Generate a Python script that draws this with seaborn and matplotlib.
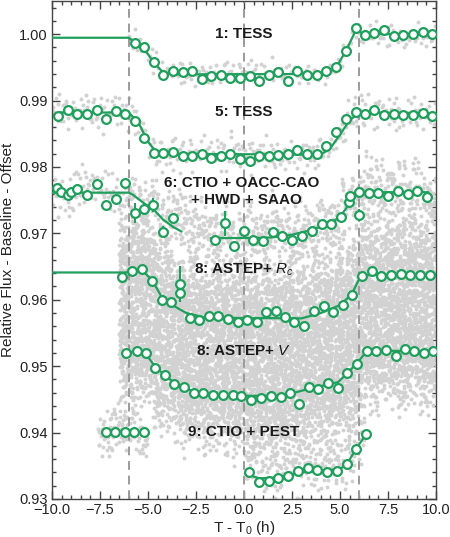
import numpy as np
import pandas as pd
import matplotlib
matplotlib.use('Agg')
import matplotlib.pyplot as plt
from matplotlib.ticker import MultipleLocator
import seaborn as sns

sns.set_theme(style='ticks')
plt.rcParams['font.family'] = ['Liberation Sans', 'DejaVu Sans']
plt.rcParams['mathtext.fontset'] = 'custom'
plt.rcParams['mathtext.rm'] = 'Liberation Sans'
plt.rcParams['mathtext.it'] = 'Liberation Sans:italic'
plt.rcParams['mathtext.bf'] = 'Liberation Sans:bold'

GREEN = '#1f9e5c'
GRAY = '#d2d2d2'

# ---- binned light curves (hours from mid-transit, relative flux) ----
s1_t = [-5.68, -5.21, -4.69, -4.20, -3.70, -3.19, -2.69, -2.20, -1.70, -1.20, -0.73, -0.21, 0.31, 0.80, 1.30, 1.79,
        2.27, 2.76, 3.26, 3.78, 4.29, 4.81, 5.30, 5.83, 6.30, 6.79, 7.31, 7.80, 8.30, 8.82, 9.31, 9.81]
s1_f = [0.99871, 0.99800, 0.99580, 0.99390, 0.99444, 0.99430, 0.99440, 0.99330, 0.99376, 0.99380, 0.99341, 0.99340,
        0.99365, 0.99300, 0.99380, 0.99430, 0.99290, 0.99444, 0.99380, 0.99380, 0.99444, 0.99505, 0.99745, 1.00090,
        0.99985, 1.00015, 1.00065, 0.99965, 0.99990, 1.00000, 1.00030, 1.00000]

s5_t = [-9.67, -9.15, -8.68, -8.16, -7.67, -7.19, -6.67, -6.20, -5.68, -5.21, -4.69, -4.20, -3.70, -3.19, -2.69, -2.20,
        -1.70, -1.20, -0.73, -0.21, 0.31, 0.80, 1.30, 1.79, 2.27, 2.76, 3.26, 3.78, 4.29, 4.81, 5.30, 5.83, 6.30, 6.79,
        7.31, 7.80, 8.30, 8.82, 9.31, 9.81]
s5_f = [0.98770, 0.98865, 0.98805, 0.98805, 0.98855, 0.98720, 0.98840, 0.98805, 0.98694, 0.98438, 0.98213, 0.98213,
        0.98228, 0.98168, 0.98168, 0.98194, 0.98130, 0.98168, 0.98194, 0.98114, 0.98093, 0.98164, 0.98164, 0.98179,
        0.98194, 0.98254, 0.98194, 0.98194, 0.98318, 0.98529, 0.98715, 0.98830, 0.98805, 0.98865, 0.98790, 0.98805,
        0.98779, 0.98779, 0.98810, 0.98764]

s6_t = [-9.76, -9.55, -9.15, -9.03, -8.68, -8.20, -7.67, -7.19, -6.67, -6.20, -5.68, -5.21, -4.72, -4.20, -3.71,
        -1.51, -0.99, -0.51, 0.00, 0.48, 1.00, 1.49, 1.99, 2.48, 3.04, 3.53, 4.05, 4.53, 5.04, 5.49, 5.52, 6.00, 6.00,
        6.51, 7.00, 7.52, 8.00, 8.53, 9.03, 9.51]
s6_f = [0.97679, 0.97628, 0.97578, 0.97630, 0.97670, 0.97578, 0.97738, 0.97430, 0.97520, 0.97763, 0.97303, 0.97363,
        0.97428, 0.97027, 0.97228, 0.96902, 0.97153, 0.96813, 0.97038, 0.96902, 0.96887, 0.97027, 0.96962, 0.96893,
        0.96963, 0.97038, 0.97138, 0.97138, 0.97254, 0.97479, 0.97565, 0.97279, 0.97628, 0.97613, 0.97613, 0.97565,
        0.97643, 0.97589, 0.97643, 0.97554]
s6_err = [0, 0, 0, 0, 0, 0, 0, 0, 0, 0, 0.0015, 0.0008, 0.0010, 0.0008, 0.0007,
          0, 0.0019, 0, 0, 0, 0, 0, 0, 0, 0, 0.0007, 0, 0, 0, 0, 0, 0.0009, 0,
          0, 0, 0, 0, 0, 0, 0]

rc_t = [-6.37, -5.85, -5.33, -4.81, -4.29, -3.82, -3.33, -3.33, -2.81, -2.33, -1.82, -1.34, -0.85, -0.33, 0.14, 0.66,
        1.15, 1.65, 2.14, 2.62, 3.14, 3.66, 4.15, 4.65, 5.14, 5.64, 6.13, 6.65, 7.14, 7.64, 8.16, 8.66, 9.17, 9.69]
rc_f = [0.96336, 0.96426, 0.96462, 0.96276, 0.95991, 0.95961, 0.96237, 0.96102, 0.95727, 0.95691, 0.95761, 0.95761,
        0.95711, 0.95661, 0.95701, 0.95661, 0.95811, 0.95826, 0.95741, 0.95661, 0.95601, 0.95836, 0.95901, 0.95811,
        0.95926, 0.96076, 0.96362, 0.96437, 0.96362, 0.96376, 0.96390, 0.96370, 0.96380, 0.96376]
rc_err = [0, 0, 0, 0, 0, 0, 0.0027, 0.0013] + [0] * 26

v_t = [-6.15, -5.59, -5.10, -4.64, -4.11, -3.63, -3.13, -2.60, -2.12, -1.63, -1.11, -0.59, -0.16, 0.36, 0.87, 1.39,
       1.91, 2.40, 2.86, 3.39, 3.87, 4.39, 4.88, 5.38, 5.87, 6.39, 6.87, 7.40, 7.90, 8.39, 8.87, 9.38, 9.86]
v_f = [0.95201, 0.95226, 0.95191, 0.94966, 0.94865, 0.94725, 0.94691, 0.94590, 0.94590, 0.94565, 0.94565, 0.94570,
       0.94550, 0.94490, 0.94526, 0.94550, 0.94540, 0.94600, 0.94435, 0.94690, 0.94650, 0.94740, 0.94666, 0.94900,
       0.95040, 0.95236, 0.95230, 0.95250, 0.95160, 0.95260, 0.95236, 0.95200, 0.95236]

s9_t = [-7.19, -6.72, -6.20, -5.71, -5.19, 0.28, 0.80, 1.30, 1.79, 2.31, 2.83, 3.32, 3.82, 4.34, 4.83, 5.35, 5.83, 6.34]
s9_f = [0.94010, 0.94010, 0.94010, 0.94010, 0.94010, 0.93400, 0.93249, 0.93264, 0.93309, 0.93350, 0.93424, 0.93460,
        0.93435, 0.93400, 0.93424, 0.93524, 0.93760, 0.93974]

# ---- transit models drawn as lines ----
m1_t = [-10, -6.0, -5.68, -5.21, -4.69, -4.2, -3.5, 4.3, 4.81, 5.30, 5.83, 6.30, 10]
m1_f = [0.99946, 0.99946, 0.99871, 0.99780, 0.99570, 0.99420, 0.99395, 0.99400, 0.99505, 0.99745, 1.00060, 1.00000, 1.00000]
m5_t = [-9.67, -6.0, -5.5, -5.0, -4.5, 4.0, 4.5, 5.0, 5.5, 6.0, 9.81]
m5_f = [0.98820, 0.98820, 0.98670, 0.98380, 0.98200, 0.98185, 0.98280, 0.98490, 0.98700, 0.98820, 0.98810]
m6a_t = [-10, -6.0, -5.77, -5.21, -4.72, -4.2, -3.67, -3.25]
m6a_f = [0.97613, 0.97613, 0.97578, 0.97453, 0.97363, 0.97203, 0.97093, 0.97027]
m6b_t = [-1.73, 0.5, 1.5, 2.5, 3.5, 4.5, 5.0, 5.5, 6.0, 9.6]
m6b_f = [0.96930, 0.96930, 0.96940, 0.96980, 0.97050, 0.97150, 0.97250, 0.97450, 0.97620, 0.97620]
mrc_t = [-10, -6.2, -5.8, -5.3, -4.8, -4.3, -3.8, -3.0, -2.0, 3.0, 4.0, 5.0, 5.6, 6.1, 10]
mrc_f = [0.96411, 0.96411, 0.96426, 0.96440, 0.96300, 0.96050, 0.95930, 0.95800, 0.95730, 0.95720, 0.95800, 0.95920,
         0.96080, 0.96370, 0.96380]
mv_t = [-6.2, -5.6, -5.1, -4.6, -4.1, -3.6, -3.1, -2.5, -1.5, 2.0, 3.0, 4.0, 4.9, 5.4, 5.9, 6.4, 10]
mv_f = [0.95210, 0.95220, 0.95180, 0.94980, 0.94860, 0.94740, 0.94680, 0.94600, 0.94560, 0.94550, 0.94630, 0.94700,
        0.94760, 0.94900, 0.95050, 0.95230, 0.95230]
m9_t = [0.05, 0.8, 2.0, 3.0, 4.0, 5.0, 5.35, 5.85, 6.35]
m9_f = [0.93380, 0.93310, 0.93330, 0.93400, 0.93420, 0.93450, 0.93520, 0.93760, 0.93970]

# ---- unbinned scatter clouds: (t start, t end, model, spread, count, shift) ----
jit_a = [0.31, -1.12, 0.87, -0.45, 1.64, -0.08, -1.73, 0.52, 1.05, -0.66, 0.19, -1.38, 2.02, -0.91, 0.44, 1.27,
         -0.27, -2.10, 0.73, -0.54, 1.48, 0.05, -1.01, 0.96, -0.35, -1.57, 0.62, 1.86, -0.79, 0.13, -1.24, 0.38,
         1.12, -0.19, -0.70, 1.39, -1.86, 0.27, 0.84, -0.41, 1.58]
jit_b = [-0.52, 0.94, -1.31, 0.22, 1.71, -0.83, 0.48, -0.12, 1.19, -1.62, 0.67, -0.38, 1.43, -0.97, 0.09, -1.88,
         0.81, 1.02, -0.24, -0.61, 1.95, -1.15, 0.35, -0.74, 0.58, -1.44, 0.16, 1.27, -0.05]
clouds = [
    (-6.0, 10.0, (m1_t, m1_f), 0.0009, 200, 0.0),
    (-10.0, 10.0, (m5_t, m5_f), 0.0012, 380, 0.0),
    (-10.0, -6.0, (m6a_t, m6a_f), 0.0018, 90, 0.0),
    (-6.0, 10.0, (s6_t, s6_f), 0.0022, 900, 0.0),
    (-6.5, 10.0, (mrc_t, mrc_f), 0.0036, 4200, 0.0),
    (-6.5, 10.0, (mv_t, mv_f), 0.0036, 4200, 0.0),
    (-7.6, -5.0, ([-8, 0], [0.940, 0.940]), 0.0018, 110, 0.0),
    (0.0, 6.3, (m9_t, m9_f), 0.0030, 320, 0.0025),
]

pts = []
for t0, t1, (mt, mf), sig, n, shift in clouds:
    for i in range(n):
        u = (i * 0.6180339887 + 0.37) % 1.0
        t = t0 + (t1 - t0) * u
        j = (jit_a[i % len(jit_a)] + jit_b[(i * 7) % len(jit_b)]) / 1.35
        pts.append((t, np.interp(t, mt, mf) + shift + sig * j))
raw = pd.DataFrame(pts, columns=['t', 'flux'])

fig = plt.figure(figsize=(4.5, 5.37), dpi=100)
ax = fig.add_axes([0.1156, 0.0708, 0.8533, 0.9274])

sns.scatterplot(data=raw, x='t', y='flux', color=GRAY, s=8, linewidth=0, ax=ax, zorder=1)

for xv in [-6, 0, 6]:
    ax.axvline(xv, color='#9a9a9a', lw=1.4, ls=(0, (4.5, 3)), zorder=2)

for mt, mf in [(m1_t, m1_f), (m5_t, m5_f), (m6a_t, m6a_f), (m6b_t, m6b_f),
               (mrc_t, mrc_f), (mv_t, mv_f), (m9_t, m9_f)]:
    sns.lineplot(x=mt, y=mf, sort=False, color=GREEN, lw=1.6, ax=ax, zorder=3)

ax.errorbar(s6_t, s6_f, yerr=s6_err, fmt='none', ecolor=GREEN, elinewidth=1.5, capsize=0, zorder=3)
ax.errorbar(rc_t, rc_f, yerr=rc_err, fmt='none', ecolor=GREEN, elinewidth=1.5, capsize=0, zorder=3)

for bt, bf in [(s1_t, s1_f), (s5_t, s5_f), (s6_t, s6_f), (rc_t, rc_f), (v_t, v_f), (s9_t, s9_f)]:
    sns.scatterplot(x=bt, y=bf, s=40, facecolor='white', edgecolor=GREEN, linewidth=1.6, ax=ax, zorder=4)

lab = dict(ha='center', va='center', fontsize=11, fontweight='bold', color='#1a1a1a', zorder=5)
ax.text(0.0, 1.0001, '1: TESS', **lab)
ax.text(0.0, 0.98829, '5: TESS', **lab)
ax.text(-0.1, 0.97763, '6: CTIO + OACC-CAO', **lab)
ax.text(0.15, 0.97503, '+ HWD + SAAO', **lab)
ax.text(0.0, 0.96452, '8: ASTEP+ $R_c$', **lab)
ax.text(0.0, 0.95236, '8: ASTEP+ $V$', **lab)
ax.text(0.0, 0.9401, '9: CTIO + PEST', **lab)

ax.set_xlim(-10, 10)
ax.set_ylim(0.93, 1.005)
ax.xaxis.set_major_locator(MultipleLocator(2.5))
ax.xaxis.set_minor_locator(MultipleLocator(0.5))
ax.yaxis.set_major_locator(MultipleLocator(0.01))
ax.yaxis.set_minor_locator(MultipleLocator(0.002))
ax.yaxis.set_major_formatter(plt.FormatStrFormatter('%.2f'))
ax.tick_params(which='both', direction='in', top=True, right=True, color='#444444', width=1,
               labelsize=10.5, labelcolor='#222222', pad=3)
ax.tick_params(which='major', length=6)
ax.tick_params(which='minor', length=3)
for sp in ax.spines.values():
    sp.set_color('#444444')
    sp.set_linewidth(1)
ax.set_xlabel('T - T$_0$ (h)', fontsize=11, color='#222222', labelpad=1)
ax.set_ylabel('Relative Flux - Baseline - Offset', fontsize=11, color='#222222', labelpad=3)

fig.savefig('out.png', dpi=100)
